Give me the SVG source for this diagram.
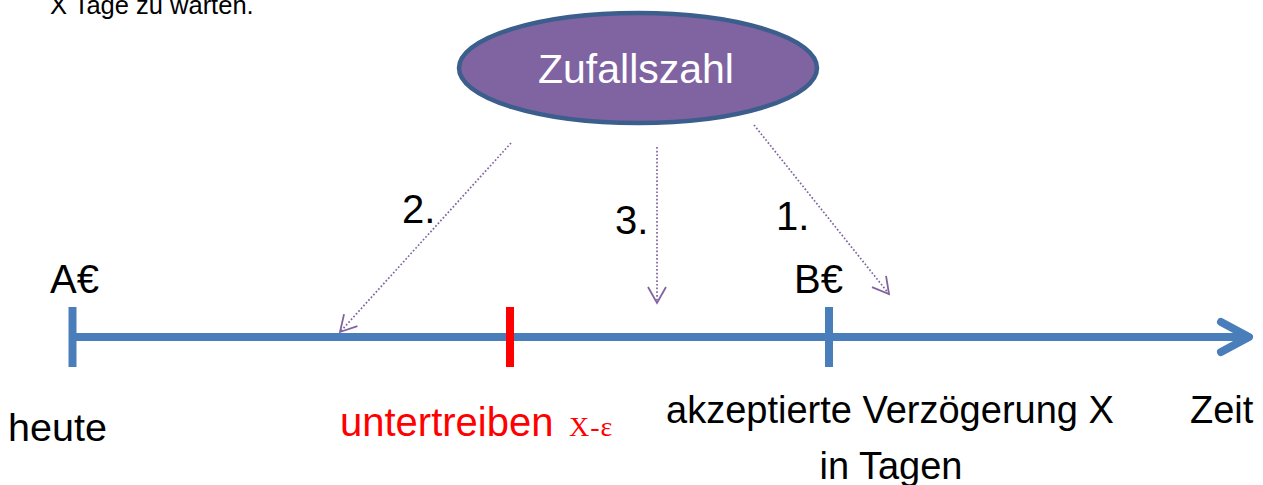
<svg xmlns="http://www.w3.org/2000/svg" width="1263" height="485" viewBox="0 0 1263 485">
<style>
text{font-family:"Liberation Sans",Arial,sans-serif;fill:#000}
.lbl{font-size:40px}
.axis{stroke:#4A7EBB;stroke-width:8;fill:none}
.dot{stroke:#8064A2;stroke-width:1.7;stroke-dasharray:1.7 2;fill:none}
</style>
<defs>
<marker id="open" viewBox="0 0 20 20" refX="18" refY="10" markerWidth="20" markerHeight="20" markerUnits="userSpaceOnUse" orient="auto">
<path d="M2,1 L18,10 L2,19" fill="none" stroke="#8064A2" stroke-width="1.8"/>
</marker>
</defs>
<rect width="1263" height="485" fill="#fff"/>
<g id="header"><text x="50" y="14" style="font-size:25.5px">X Tage zu warten.</text></g>
<g id="zufallszahl">
<ellipse cx="638" cy="68" rx="179" ry="55" fill="#8064A2" stroke="#3B5E8C" stroke-width="4.5"/>
<text x="636" y="83" text-anchor="middle" style="font-size:41px;fill:#fff">Zufallszahl</text>
</g>
<g id="timeline">
<line class="axis" x1="72" y1="337" x2="1246" y2="337"/>
<polyline class="axis" points="1221,322 1249,337 1221,352" stroke-linecap="round" stroke-linejoin="round"/>
<line class="axis" x1="72.5" y1="307" x2="72.5" y2="367"/>
<line class="axis" x1="829" y1="307" x2="829" y2="367"/>
<line x1="510" y1="307" x2="510" y2="367" stroke="#FF0000" stroke-width="8"/>
</g>
<g id="labels">
<text class="lbl" x="50" y="293">A€</text>
<text class="lbl" x="794" y="293">B€</text>
<text x="8" y="441" style="font-size:39.5px">heute</text>
<text x="340" y="436" style="font-size:40px;fill:#FF0000">untertreiben</text>
<text x="569" y="436" style="font-family:'Liberation Serif','Times New Roman',serif;font-size:28px;fill:#FF0000;letter-spacing:1px">X-ε</text>
<text x="666" y="423" style="font-size:38px">akzeptierte Verzögerung X</text>
<text x="891" y="479" text-anchor="middle" style="font-size:38px">in Tagen</text>
<text x="1190" y="423" style="font-size:38px">Zeit</text>
<text class="lbl" x="402" y="223">2.</text>
<text class="lbl" x="615" y="234">3.</text>
<text class="lbl" x="776" y="230">1.</text>
</g>
<g id="connectors">
<line class="dot" x1="511" y1="143" x2="340" y2="332" marker-end="url(#open)"/>
<line class="dot" x1="657" y1="147" x2="657" y2="303" marker-end="url(#open)"/>
<line class="dot" x1="754" y1="125" x2="889" y2="294" marker-end="url(#open)"/>
</g>
</svg>
